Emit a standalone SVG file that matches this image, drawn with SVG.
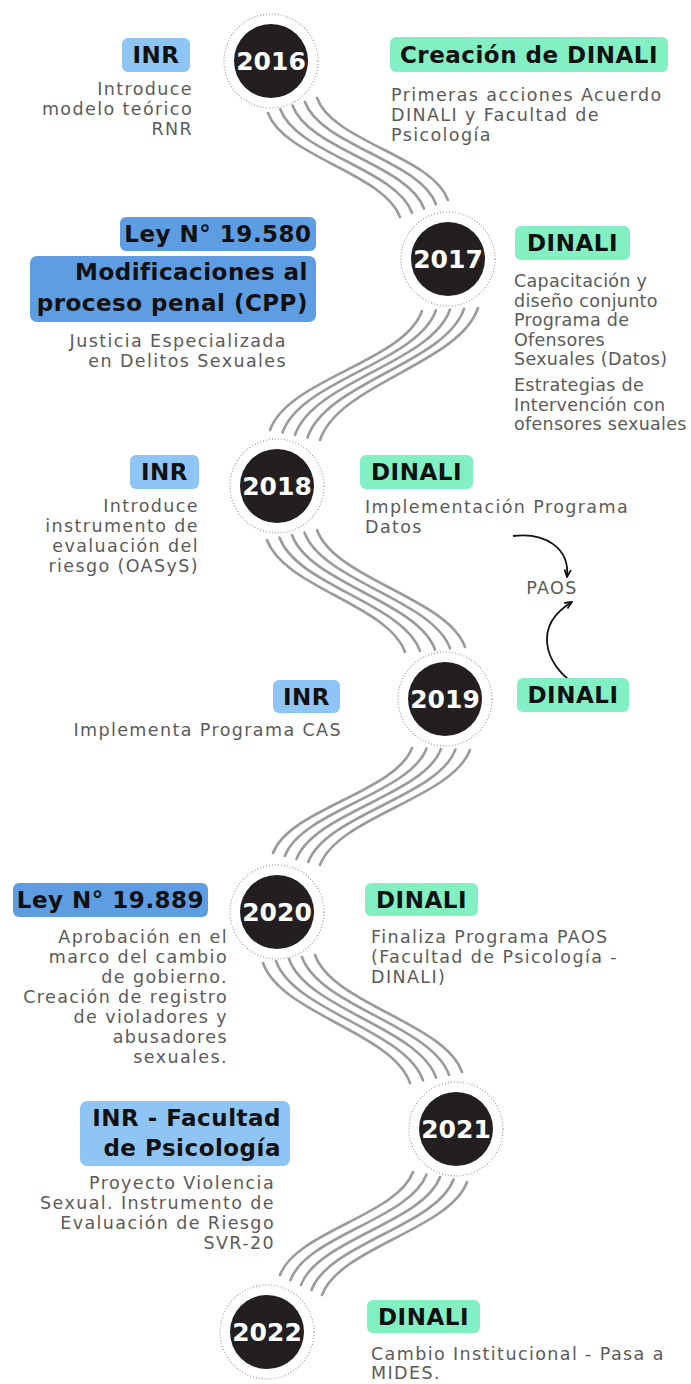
<svg xmlns="http://www.w3.org/2000/svg" width="691" height="1384" viewBox="0 0 691 1384">
<style>
.body{font-family:"DejaVu Sans",sans-serif;font-size:17.5px;letter-spacing:1.4px;fill:#5b5b5b}
.tight{letter-spacing:0.3px}
.end{text-anchor:end}
.lbl{font-family:"DejaVu Sans",sans-serif;font-weight:bold;font-size:23px;letter-spacing:0.5px;fill:#111}
.mid{text-anchor:middle}
.yr{font-family:"DejaVu Sans",sans-serif;font-weight:bold;font-size:25px;fill:#fff;text-anchor:middle}
.ring{fill:#fff;stroke:#9a9a9a;stroke-width:1.2;stroke-dasharray:1 2}
.dot{fill:#231f20}
.green{fill:#82f0c2}
.lblue{fill:#8fc5f5}
.mblue{fill:#5e9de2}
.wave{fill:none;stroke:#9b9b9b;stroke-width:2.6;stroke-linecap:round}
.arr{fill:none;stroke:#111;stroke-width:1.8;marker-end:url(#ah)}
</style>
<defs>
<marker id="ah" viewBox="0 0 10 10" refX="9" refY="5" markerWidth="9" markerHeight="9" markerUnits="userSpaceOnUse" orient="auto">
<path d="M1,1.5 L9,5 L1,8.5" fill="none" stroke="#111" stroke-width="2"/>
</marker>
</defs>
<rect width="691" height="1384" fill="#fff"/>
<g id="connectors">
<g class="wave">
<path d="M268,113 C283.8,156.7 384.2,173.3 400,217"/>
<path d="M280.3,109.3 C296,153 396.2,169 412,212.8"/>
<path d="M292.5,105.5 C308.3,149.2 408.2,164.8 424,208.5"/>
<path d="M304.8,101.8 C320.6,145.5 420.2,160.5 436,204.3"/>
<path d="M317,98 C332.8,141.7 432.2,156.3 448,200"/>

<path d="M422,311 C403.8,362 288.2,378.8 270,430"/>
<path d="M436,310.3 C417.6,362.5 300.9,379.9 282.5,432.5"/>
<path d="M450,309.5 C431.4,363 313.6,381 295,435"/>
<path d="M464,308.8 C445.2,363.5 326.3,382.2 307.5,437.5"/>
<path d="M478,308 C459,364 339,383.3 320,440"/>

<path d="M267,540 C283.6,587 388.4,605 405,652"/>
<path d="M279.5,537.5 C296.4,585.1 403.1,603.2 420,650.8"/>
<path d="M292,535 C309.2,583.1 417.8,601.4 435,649.5"/>
<path d="M304.5,532.5 C322,581.1 432.5,599.7 450,648.3"/>
<path d="M317,530 C334.8,579.1 447.2,597.9 465,647"/>

<path d="M412,748 C395.3,792.1 289.7,808.9 273,853"/>
<path d="M426.5,748.5 C409.5,793.7 301.8,810.8 284.8,856"/>
<path d="M441,749 C423.7,795.2 313.8,812.8 296.5,859"/>
<path d="M455.5,749.5 C437.8,796.8 326,814.7 308.3,862"/>
<path d="M470,750 C452,798.3 338,816.7 320,865"/>

<path d="M263,963 C280.6,1013.4 392.4,1032.6 410,1083"/>
<path d="M276,961 C293.6,1011.1 405.4,1030.2 423,1080.3"/>
<path d="M289,959 C306.6,1008.8 418.4,1027.7 436,1077.5"/>
<path d="M302,957 C319.6,1006.5 431.4,1025.3 449,1074.8"/>
<path d="M315,955 C332.6,1004.1 444.4,1022.9 462,1072"/>

<path d="M413,1172 C397,1215.3 296,1231.7 280,1275"/>
<path d="M426.5,1174.5 C410.2,1218.8 306.8,1235.7 290.5,1280"/>
<path d="M440,1177 C423.3,1222.4 317.7,1239.6 301,1285"/>
<path d="M453.5,1179.5 C436.5,1225.9 328.5,1243.6 311.5,1290"/>
<path d="M467,1182 C449.6,1229.5 339.4,1247.5 322,1295"/>
</g>
<path class="arr" d="M513,536 C545,532 570,548 567,577"/>
<path class="arr" d="M572,682 C546,664 532,626 572,602"/>
</g>

<g id="y2016">
<circle class="ring" cx="271" cy="61" r="47"/>
<circle class="dot" cx="271" cy="61" r="37"/>
<text class="yr" x="271" y="70">2016</text>
<rect class="lblue" x="122" y="38" width="68" height="34" rx="6"/>
<text class="lbl mid" x="156" y="63">INR</text>
<text class="body end" x="193" y="95">Introduce</text>
<text class="body end" x="193" y="115">modelo teórico</text>
<text class="body end" x="193" y="135">RNR</text>
<rect class="green" x="390" y="37" width="278" height="35" rx="6"/>
<text class="lbl mid" x="529" y="63">Creación de DINALI</text>
<text class="body" x="391" y="101">Primeras acciones Acuerdo</text>
<text class="body" x="391" y="121">DINALI y Facultad de</text>
<text class="body" x="391" y="141">Psicología</text>
</g>

<g id="y2017">
<circle class="ring" cx="448" cy="259" r="47"/>
<circle class="dot" cx="448" cy="259" r="37"/>
<text class="yr" x="448" y="268">2017</text>
<rect class="mblue" x="120" y="217" width="196" height="34" rx="6"/>
<text class="lbl mid" x="218" y="242">Ley N° 19.580</text>
<rect class="mblue" x="30" y="256" width="286" height="66" rx="7"/>
<text class="lbl end" x="308" y="280">Modificaciones al</text>
<text class="lbl end" x="308" y="311">proceso penal (CPP)</text>
<text class="body end" x="287" y="347">Justicia Especializada</text>
<text class="body end" x="287" y="367">en Delitos Sexuales</text>
<rect class="green" x="515" y="226" width="115" height="34" rx="6"/>
<text class="lbl mid" x="572.5" y="251">DINALI</text>
<text class="body tight" x="514" y="287">Capacitación y</text>
<text class="body tight" x="514" y="307">diseño conjunto</text>
<text class="body tight" x="514" y="326">Programa de</text>
<text class="body tight" x="514" y="346">Ofensores</text>
<text class="body tight" x="514" y="365">Sexuales (Datos)</text>
<text class="body tight" x="514" y="391">Estrategias de</text>
<text class="body tight" x="514" y="411">Intervención con</text>
<text class="body tight" x="514" y="430">ofensores sexuales</text>
</g>

<g id="y2018">
<circle class="ring" cx="277" cy="486" r="47"/>
<circle class="dot" cx="277" cy="486" r="37"/>
<text class="yr" x="277" y="495">2018</text>
<rect class="lblue" x="130" y="455" width="69" height="34" rx="6"/>
<text class="lbl mid" x="164.5" y="480">INR</text>
<text class="body end" x="199" y="512">Introduce</text>
<text class="body end" x="199" y="532">instrumento de</text>
<text class="body end" x="199" y="552">evaluación del</text>
<text class="body end" x="199" y="572">riesgo (OASyS)</text>
<rect class="green" x="360" y="455" width="113" height="34" rx="6"/>
<text class="lbl mid" x="416.5" y="480">DINALI</text>
<text class="body" x="365" y="513">Implementación Programa</text>
<text class="body" x="365" y="533">Datos</text>
</g>

<g id="paos">
<text class="body mid" x="552" y="594">PAOS</text>
</g>

<g id="y2019">
<circle class="ring" cx="445" cy="699" r="47"/>
<circle class="dot" cx="445" cy="699" r="37"/>
<text class="yr" x="445" y="708">2019</text>
<rect class="lblue" x="273" y="680" width="67" height="33" rx="6"/>
<text class="lbl mid" x="306.5" y="705">INR</text>
<text class="body end" x="342" y="736">Implementa Programa CAS</text>
<rect class="green" x="517" y="678" width="112" height="34" rx="6"/>
<text class="lbl mid" x="573" y="703">DINALI</text>
</g>

<g id="y2020">
<circle class="ring" cx="277" cy="912" r="47"/>
<circle class="dot" cx="277" cy="912" r="37"/>
<text class="yr" x="277" y="921">2020</text>
<rect class="mblue" x="13" y="883" width="195" height="34" rx="6"/>
<text class="lbl mid" x="110.5" y="908">Ley N° 19.889</text>
<text class="body end" x="228" y="943">Aprobación en el</text>
<text class="body end" x="228" y="963">marco del cambio</text>
<text class="body end" x="228" y="983">de gobierno.</text>
<text class="body end" x="228" y="1003">Creación de registro</text>
<text class="body end" x="228" y="1023">de violadores y</text>
<text class="body end" x="228" y="1043">abusadores</text>
<text class="body end" x="228" y="1063">sexuales.</text>
<rect class="green" x="365" y="883" width="113" height="33" rx="6"/>
<text class="lbl mid" x="421.5" y="908">DINALI</text>
<text class="body" x="371" y="943">Finaliza Programa PAOS</text>
<text class="body" x="371" y="963">(Facultad de Psicología -</text>
<text class="body" x="371" y="983">DINALI)</text>
</g>

<g id="y2021">
<circle class="ring" cx="456" cy="1129" r="47"/>
<circle class="dot" cx="456" cy="1129" r="37"/>
<text class="yr" x="456" y="1138">2021</text>
<rect class="lblue" x="80" y="1101" width="210" height="65" rx="7"/>
<text class="lbl end" x="281" y="1126">INR - Facultad</text>
<text class="lbl end" x="281" y="1156">de Psicología</text>
<text class="body end" x="275" y="1189">Proyecto Violencia</text>
<text class="body end" x="275" y="1209">Sexual. Instrumento de</text>
<text class="body end" x="275" y="1229">Evaluación de Riesgo</text>
<text class="body end" x="275" y="1249">SVR-20</text>
</g>

<g id="y2022">
<circle class="ring" cx="267" cy="1332" r="47"/>
<circle class="dot" cx="267" cy="1332" r="37"/>
<text class="yr" x="267" y="1341">2022</text>
<rect class="green" x="367" y="1300" width="113" height="33" rx="6"/>
<text class="lbl mid" x="423.5" y="1325">DINALI</text>
<text class="body" x="371" y="1360">Cambio Institucional - Pasa a</text>
<text class="body" x="371" y="1379">MIDES.</text>
</g>
</svg>
